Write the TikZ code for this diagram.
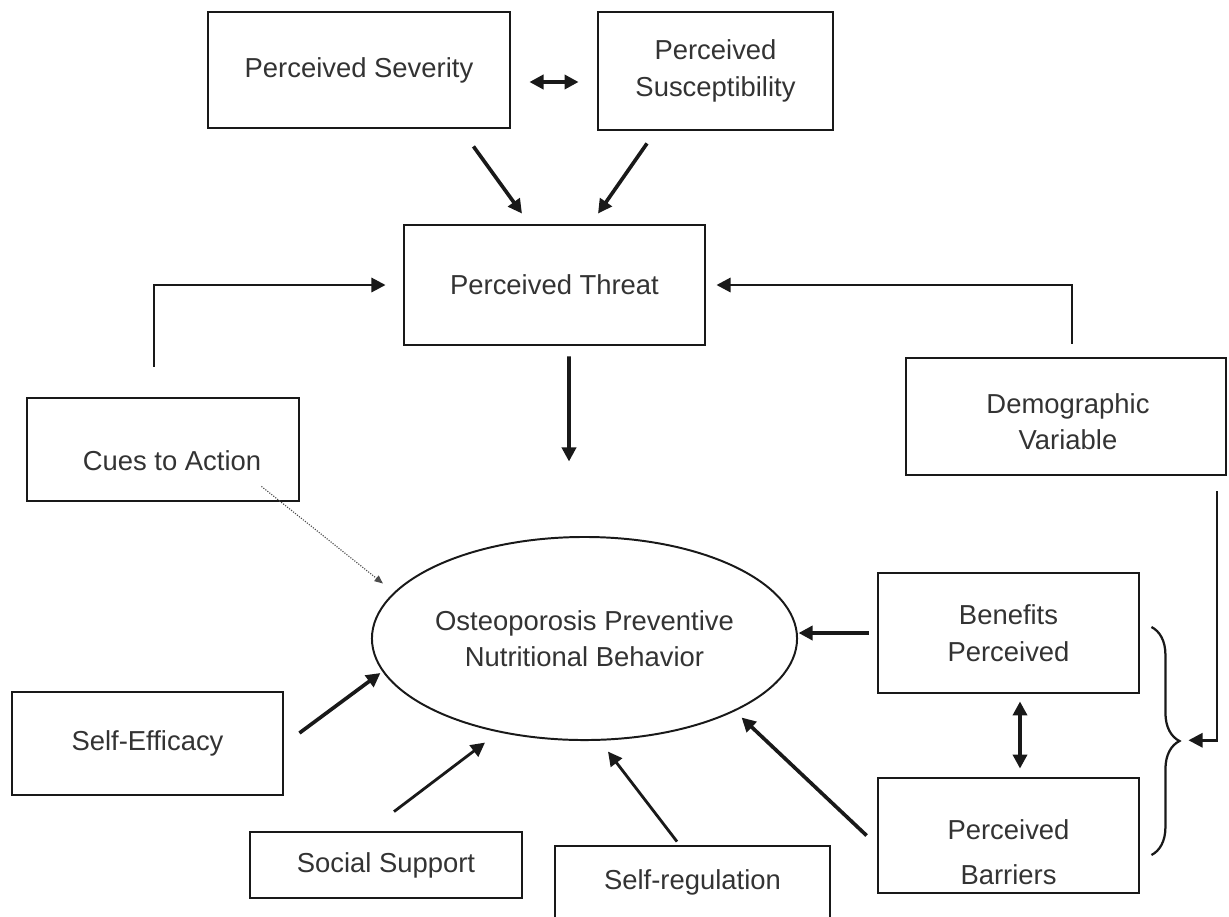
\documentclass[tikz,border=0pt]{standalone}
\usepackage{fontspec}
\setmainfont{Liberation Sans}
\usetikzlibrary{shapes, arrows.meta, calc, decorations.pathreplacing}

\begin{document}
\begin{tikzpicture}[x=0.025cm, y=-0.025cm, >={Triangle[length=10pt, width=10pt]},
                    font=\fontsize{19.5}{26}\selectfont, text=black!80]
\tikzset{
  box/.style={draw=black!90, line width=2pt, inner sep=0pt, align=center},
  txt/.style={align=center, inner sep=0pt},
  link/.style={->, draw=black!90, line width=2.6pt},
  feed/.style={->, draw=black!90, line width=2pt}
  };

\useasboundingbox (0,0) rectangle (1229,916);

% factors of the threat
\node[box, minimum width=7.55cm,  minimum height=2.9cm]  (sev) at (359,70)    {Perceived Severity};
\node[box, minimum width=5.875cm, minimum height=2.95cm] (sus) at (715.5,71)  {Perceived\\Susceptibility};
\node[box, minimum width=7.525cm, minimum height=3cm]    (thr) at (554.5,285) {Perceived Threat};

\node[box, minimum width=6.8cm, minimum height=2.575cm] (cues) at (163,449.5) {};
\node[txt] (cuestxt) at ($(cues.center)+(9,11)$) {Cues to Action};
\node[box, minimum width=8cm,   minimum height=2.925cm] (dem)  at (1066,416.5) {};
\node[txt] (demtxt) at ($(dem.center)+(2,5)$) {Demographic\\Variable};

% the behaviour
\node[draw=black!90, line width=1.4pt, ellipse, inner sep=0pt,
      minimum width=10.625cm, minimum height=5.075cm, align=center] (beh) at (584.5,638.5)
      {Osteoporosis Preventive\\Nutritional Behavior};

\node[box, minimum width=6.525cm, minimum height=3cm]     (ben) at (1008.5,633)   {Benefits\\Perceived};
\node[box, minimum width=6.525cm, minimum height=2.875cm] (bar) at (1008.5,835.5) {};
\node[txt] (bartxt) at ($(bar.center)+(0,17)$) {Perceived\\[0.22cm]Barriers};

\node[box, minimum width=6.775cm, minimum height=2.575cm] (eff) at (147.5,743.5) {Self-Efficacy};
\node[box, minimum width=6.8cm,   minimum height=1.65cm]  (soc) at (386,865)     {Social Support};
\node[box, minimum width=6.875cm, minimum height=3cm]     (reg) at (692.5,906)   {};
\node[txt] (regtxt) at ($(reg.center)+(0,-24)$) {Self-regulation};

% arrows into the threat
\draw[link, <->] ($(sev.east)+(18,12)$) -- ($(sus.west)+(-18,11)$);
\draw[link] ($(sev.south east)+(-38,17)$) -- ($(thr.north)+(-32.5,-10)$);
\draw[link] ($(sus.south)+(-68.5,12)$) -- ($(thr.north)+(43.5,-10)$);
\draw[feed, shorten >=0.425cm] ($(cues.north)+(-9,-30)$) |- (thr.west);
\draw[feed, shorten >=0.25cm]  ($(dem.north)+(6,-13)$) |- (thr.east);
\draw[link] ($(thr.south)+(14.5,10)$) -- ($(beh.north)+(-15.5,-74.5)$);

% arrows into the behaviour
\draw[->, >={Triangle[length=6pt, width=5pt]}, densely dotted, line width=0.8pt, black!70]
  ($(cues.south east)+(-39,-16)$) -- ($(beh.west)+(12,-55)$);
\draw[link] ($(eff.east)+(15,-10.5)$) -- ++(81,-60);
\draw[feed] ($(soc.north)+(8,-19)$) -- ++(91,-69);
\draw[feed] ($(reg.north)+(-15.5,-3)$) -- ++(-69,-90);
\draw[link] ($(bar.west)+(-10,0)$) -- ++(-125,-118);
\draw[link] ($(ben.west)+(-8,0)$) -- ++(-70,0);
\draw[link, <->] ($(ben.south)+(11.5,7)$) -- ($(bar.north)+(11.5,-8)$);

% brace and demographic feed
\draw[draw=black!90, line width=1.6pt, decorate, decoration={brace, amplitude=0.7cm}]
  ($(ben.east)+(11,-6)$) -- ($(bar.east)+(11,19.5)$);
\coordinate (bracetip) at ($(ben.east)!0.5!(bar.east)+(41,6)$);
\draw[feed, shorten >=0.175cm] ($(dem.south)+(151,15)$) |- (bracetip);

\end{tikzpicture}
\end{document}
